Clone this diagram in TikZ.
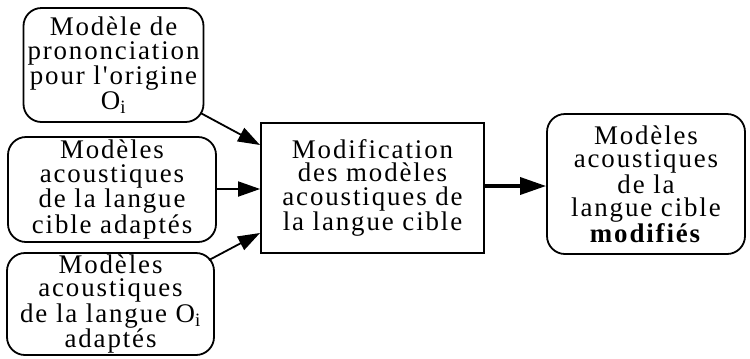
\documentclass[tikz,border=0pt]{standalone}
\usepackage{fontspec}
\setmainfont[LetterSpace=7,Ligatures=TeXOff]{Liberation Serif}
\usetikzlibrary{arrows.meta}
\begin{document}
\begin{tikzpicture}[x=1bp,y=-1bp,
  txt/.style={align=center,font=\fontsize{27}{23.5}\selectfont,inner sep=0pt},
  rbox/.style={txt,draw,line width=1.8bp,rounded corners=18bp},
  sbox/.style={txt,draw,line width=1.8bp},
  arr/.style={line width=1.8bp,-{Triangle[length=22bp,width=15bp]}},
  bigarr/.style={line width=3.5bp,-{Triangle[length=26bp,width=17bp]}}]
\useasboundingbox (0,0) rectangle (750,358);
\node[rbox,minimum width=180bp,minimum height=114bp] (A) at (113.5,65) {Modèle de\\prononciation\\pour l'origine\\O\textsubscript{i}};
\node[rbox,minimum width=208bp,minimum height=105bp] (B) at (112,189.5) {Modèles\\acoustiques\\de la langue\\cible adaptés};
\node[rbox,minimum width=207bp,minimum height=102bp] (C) at (110.5,304) {Modèles\\acoustiques\\de la langue O\textsubscript{i}\\adaptés};
\node[sbox,minimum width=223bp,minimum height=130bp] (M) at (372.5,188) {Modification\\des modèles\\acoustiques de\\la langue cible};
\node[rbox,minimum width=198bp,minimum height=140bp] (R) at (646,184) {Modèles\\acoustiques\\de la\\langue cible\\\textbf{modifiés}};
\coordinate (ta) at (260,145);
\coordinate (tc) at (260,233);
\draw[arr] (A.south east) ++(-4,-10) -- (ta);
\draw[arr] (B.east |- 0,189) -- (M.west |- 0,189);
\draw[arr] (C.north east) ++(-6,8) -- (tc);
\draw[bigarr] (M.east |- 0,186) -- (R.west |- 0,186);
\end{tikzpicture}
\end{document}
